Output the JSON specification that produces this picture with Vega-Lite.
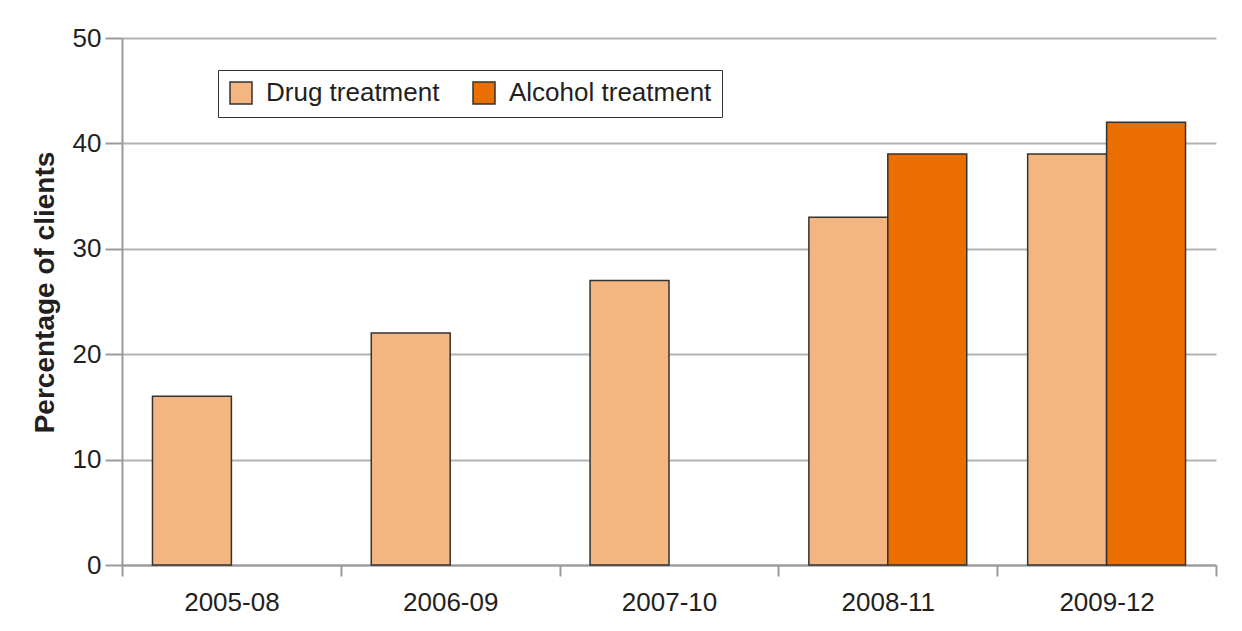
{
  "$schema": "https://vega.github.io/schema/vega-lite/v6.json",
  "autosize": "none",
  "width": 1094,
  "height": 527,
  "padding": {"left": 122, "top": 38, "right": 26, "bottom": 66},
  "background": "white",
  "data": {
    "values": [
      {"period": "2005-08", "type": "Drug treatment", "pct": 16},
      {"period": "2006-09", "type": "Drug treatment", "pct": 22},
      {"period": "2007-10", "type": "Drug treatment", "pct": 27},
      {"period": "2008-11", "type": "Drug treatment", "pct": 33},
      {"period": "2008-11", "type": "Alcohol treatment", "pct": 39},
      {"period": "2009-12", "type": "Drug treatment", "pct": 39},
      {"period": "2009-12", "type": "Alcohol treatment", "pct": 42}
    ]
  },
  "mark": {"type": "bar", "stroke": "#333333", "strokeWidth": 1.5},
  "encoding": {
    "x": {
      "field": "period",
      "type": "nominal",
      "sort": null,
      "scale": {"paddingInner": 0, "paddingOuter": 0},
      "axis": {
        "title": null,
        "labelAngle": 0,
        "tickBand": "extent",
        "tickSize": 11,
        "tickWidth": 2,
        "tickColor": "#9a9a9a",
        "domainColor": "#9a9a9a",
        "domainWidth": 2,
        "labelFontSize": 26,
        "labelFont": "Liberation Sans",
        "labelColor": "#231f20",
        "labelPadding": 13
      }
    },
    "xOffset": {
      "field": "type",
      "type": "nominal",
      "sort": ["Drug treatment", "Alcohol treatment"],
      "scale": {"paddingInner": 0, "paddingOuter": 0.386}
    },
    "y": {
      "field": "pct",
      "type": "quantitative",
      "scale": {"domain": [0, 50]},
      "axis": {
        "title": "Percentage of clients",
        "titleFont": "Liberation Sans",
        "titleFontSize": 28,
        "titleFontWeight": "bold",
        "titleColor": "#231f20",
        "titlePadding": 13,
        "titleY": 254,
        "values": [0, 10, 20, 30, 40, 50],
        "tickSize": 17,
        "tickWidth": 2,
        "tickColor": "#9a9a9a",
        "domainColor": "#9a9a9a",
        "domainWidth": 2,
        "grid": true,
        "gridColor": "#b3b3b3",
        "gridWidth": 2,
        "labelFontSize": 26,
        "labelFont": "Liberation Sans",
        "labelColor": "#231f20",
        "labelPadding": 4
      }
    },
    "color": {
      "field": "type",
      "type": "nominal",
      "sort": ["Drug treatment", "Alcohol treatment"],
      "scale": {"domain": ["Drug treatment", "Alcohol treatment"], "range": ["#f4b680", "#eb6e00"]},
      "legend": {
        "title": null,
        "orient": "none",
        "legendX": 96,
        "legendY": 32,
        "direction": "horizontal",
        "symbolType": "square",
        "symbolSize": 484,
        "symbolStrokeColor": "#333333",
        "symbolStrokeWidth": 1.5,
        "symbolOpacity": 1,
        "labelFont": "Liberation Sans",
        "labelFontSize": 26,
        "labelLimit": 400,
        "labelColor": "#231f20",
        "labelOffset": 12,
        "columnPadding": 30,
        "padding": 10,
        "strokeColor": "#333333",
        "fillColor": "white"
      }
    }
  },
  "config": {
    "view": {"stroke": null}
  }
}
